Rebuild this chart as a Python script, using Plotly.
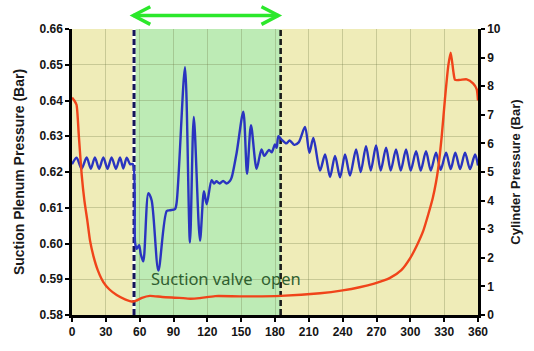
import plotly.graph_objects as go

# ---- data ----
blue_deg = [0, 4.1, 8.5, 13.0, 16.7, 20.3, 24.0, 27.8, 31.5, 35.1, 39.0, 42.6, 45.5, 48.5, 51.5, 54.0,
            56.0, 57.5, 59.5, 61.0, 63.2, 67.7, 70.6, 76.6, 84.0, 87.0, 91.3, 92.8, 100.2, 104.6,
            108.0, 113.5, 117.0, 119.4, 123.8, 126.0, 128.0, 131.0, 134.0, 137.0, 140.0, 141.6,
            146.0, 151.9, 155.2, 158.7, 163.7, 168.0, 170.5, 174.7, 177.0, 180.0, 181.5, 183.0,
            186.0, 190.0, 193.0, 197.0, 201.0, 206.6, 210.5, 214.0,
            219.9, 224.4, 228.8, 233.2, 237.7, 242.1, 246.5, 251.9, 256.0, 260.7, 264.9, 269.6,
            273.7, 278.5, 282.6, 287.3, 291.5, 296.2, 300.3, 305.1, 309.2, 313.9, 318.1, 322.8,
            326.9, 331.7, 335.8, 339.9, 344.1, 348.5, 352.9, 357.4, 360.0]
blue_val = [0.6222, 0.6240, 0.6209, 0.6241, 0.6209, 0.6241, 0.6209, 0.6241, 0.6209, 0.6241, 0.6209,
            0.6241, 0.6210, 0.6240, 0.6222, 0.6222,
            0.6000, 0.5985, 0.5995, 0.5970, 0.5950, 0.6141, 0.6121, 0.5924, 0.6091, 0.6093, 0.6096,
            0.6115, 0.6493, 0.6003, 0.6354, 0.6008, 0.6146, 0.6110, 0.6177, 0.6168, 0.6174, 0.6168,
            0.6175, 0.6168, 0.6175, 0.6185, 0.6254, 0.6369, 0.6195, 0.6331, 0.6209, 0.6263, 0.6245,
            0.6262, 0.6255, 0.6277, 0.6268, 0.6300, 0.6290, 0.6280, 0.6288, 0.6276, 0.6283, 0.6326,
            0.6254, 0.6295,
            0.6204, 0.6249, 0.6186, 0.6245, 0.6185, 0.6249, 0.6190, 0.6263, 0.6200, 0.6272, 0.6204,
            0.6274, 0.6204, 0.6268, 0.6204, 0.6263, 0.6204, 0.6263, 0.6204, 0.6258, 0.6204, 0.6258,
            0.6204, 0.6254, 0.6206, 0.6254, 0.6208, 0.6254, 0.6208, 0.6254, 0.6208, 0.6249, 0.6218]

red_deg = [0, 2, 4, 6, 8.6, 11, 13.6, 16, 19, 23, 27.8, 33, 39.6, 47, 54, 57, 62, 69, 80, 95, 105,
           113, 127, 150, 185, 220, 240, 255, 268, 282, 292, 300, 306, 311.6, 316,
           319.9, 322.8, 324.6, 327.8, 330.8, 333.7, 335.8, 338.2, 339.7, 344, 350, 355.6, 358.8, 360]
red_val = [7.6, 7.5, 7.35, 6.3, 4.9, 4.0, 3.3, 2.6, 2.06, 1.55, 1.15, 0.9, 0.7, 0.55, 0.47, 0.50,
           0.60, 0.67, 0.63, 0.60, 0.57, 0.59, 0.66, 0.65, 0.67, 0.76, 0.86, 0.97, 1.1, 1.3,
           1.57, 2.0, 2.45, 2.96, 3.53, 4.09, 4.65, 5.1, 6.24, 7.6, 8.73, 9.17, 8.5, 8.22, 8.22,
           8.24, 8.1, 7.9, 7.5]

valve_open = 55
valve_close = 185
arrow_start = 54.4
arrow_end = 183

x_ticks = list(range(0, 361, 30))
left_range = [0.58, 0.66]
right_range = [0, 10]

TICKFONT = dict(family="Liberation Sans", size=12, color="#141414", weight="bold")
GRID = "rgba(110,120,70,0.3)"

fig = go.Figure()
fig.add_trace(go.Scatter(x=red_deg, y=red_val, yaxis="y2", mode="lines",
                         line=dict(color="#f0441a", width=2.4, shape="spline", smoothing=0.6),
                         showlegend=False, hoverinfo="skip"))
fig.add_trace(go.Scatter(x=blue_deg, y=blue_val, mode="lines",
                         line=dict(color="#2a34c0", width=2.4, shape="spline", smoothing=0.8),
                         showlegend=False, hoverinfo="skip"))

shapes = [
    dict(type="rect", xref="x", yref="y domain", x0=valve_open, x1=valve_close, y0=0, y1=1,
         fillcolor="#bdebb5", line=dict(width=0), layer="below"),
    dict(type="line", xref="x", yref="y domain", x0=valve_open, x1=valve_open, y0=0, y1=1,
         line=dict(color="white", width=3), layer="below"),
    dict(type="line", xref="x", yref="y domain", x0=valve_open, x1=valve_open, y0=0, y1=1,
         line=dict(color="#14145a", width=3, dash="6px,3px"), layer="below"),
    dict(type="line", xref="x", yref="y domain", x0=valve_close, x1=valve_close, y0=0, y1=1,
         line=dict(color="#1a1a1a", width=2.6, dash="6px,3px"), layer="below"),
    # green double arrow above the plot
    dict(type="line", xref="x", yref="paper", x0=arrow_start, x1=arrow_end, y0=1.047, y1=1.047,
         line=dict(color="#2be82b", width=3.5)),
    dict(type="path", xref="x", yref="paper",
         path=f"M {arrow_start+15},1.078 L {arrow_start},1.047 L {arrow_start+15},1.016",
         line=dict(color="#2be82b", width=3.5)),
    dict(type="path", xref="x", yref="paper",
         path=f"M {arrow_end-15},1.078 L {arrow_end},1.047 L {arrow_end-15},1.016",
         line=dict(color="#2be82b", width=3.5)),
]

fig.update_layout(
    width=534, height=351,
    margin=dict(l=72, r=56, t=29, b=27),
    paper_bgcolor="white",
    plot_bgcolor="#efecb8",
    shapes=shapes,
    xaxis=dict(range=[0, 360], tickvals=x_ticks, showgrid=True,
               gridcolor=GRID, gridwidth=1, zeroline=False,
               showline=True, linecolor="black", linewidth=2.5,
               ticks="outside", ticklen=4, tickwidth=2, tickcolor="black",
               tickfont=TICKFONT),
    yaxis=dict(range=left_range, dtick=0.01, tickformat=".2f", showgrid=True,
               gridcolor=GRID, gridwidth=1, zeroline=False,
               showline=True, linecolor="black", linewidth=2.5,
               ticks="outside", ticklen=4, tickwidth=2, tickcolor="black",
               tickfont=TICKFONT,
               title=dict(text="Suction Plenum Pressure (Bar)", standoff=12,
                          font=dict(family="Liberation Sans", size=14, color="#1a1a1a", weight="bold"))),
    yaxis2=dict(range=right_range, dtick=1, overlaying="y", side="right", showgrid=False,
                zeroline=False, showline=True, linecolor="black", linewidth=2.5,
                ticks="outside", ticklen=4, tickwidth=2, tickcolor="black",
                tickfont=TICKFONT,
                title=dict(text="Cylinder Pressure (Bar)", standoff=12,
                           font=dict(family="Liberation Sans", size=13, color="#1a1a1a", weight="bold"))),
    annotations=[dict(x=136.6, y=0.5903, xref="x", yref="y", text="Suction valve \u00a0open",
                      showarrow=False, font=dict(family="Noto Sans", size=16.5, color="#2f5f2f"))],
)

fig.write_html("out.html")
